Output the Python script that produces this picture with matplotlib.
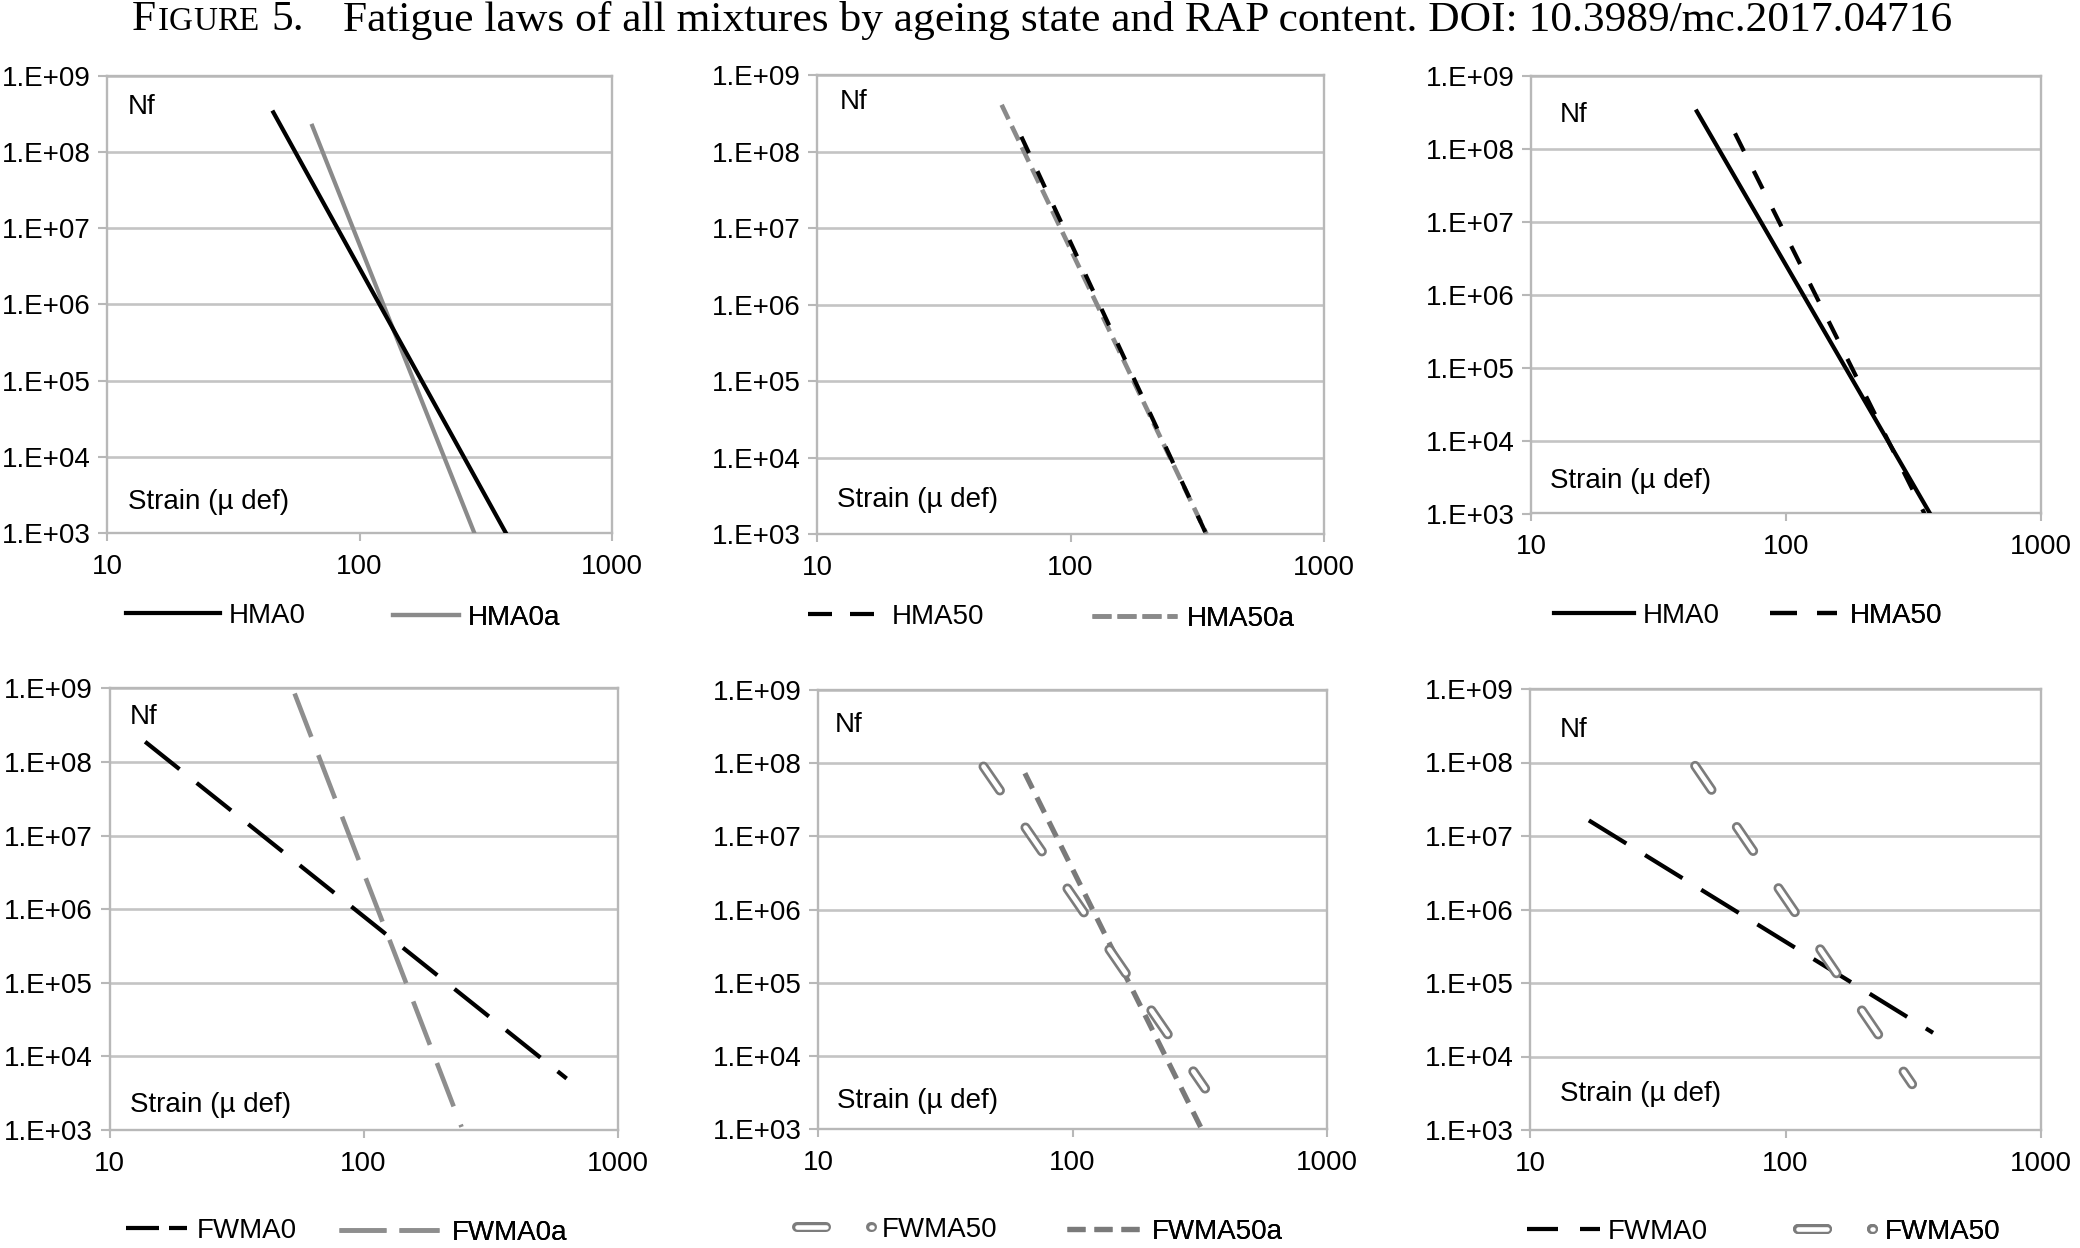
import matplotlib
matplotlib.use('Agg')
import matplotlib.pyplot as plt
from matplotlib.lines import Line2D
from matplotlib.ticker import NullLocator
from matplotlib.legend_handler import HandlerTuple

plt.rcParams['font.family'] = ['Liberation Sans', 'DejaVu Sans']
plt.rcParams['lines.scale_dashes'] = False

W, H, DPI = 2080, 1248, 100
PT = 72.0 / DPI          # points per pixel
FS = 20

# ---------------- data ----------------
strain_ticks = [10, 100, 1000]
strain_tick_labels = ['10', '100', '1000']
nf_ticks = [1e3, 1e4, 1e5, 1e6, 1e7, 1e8, 1e9]
nf_tick_labels = ['1.E+03', '1.E+04', '1.E+05', '1.E+06', '1.E+07', '1.E+08', '1.E+09']

# panel 1 : HMA0 vs HMA0a
p1_hma0_strain = [45.6, 380]
p1_hma0_nf = [3.3e8, 1e3]
p1_hma0a_strain = [65, 285]
p1_hma0a_nf = [2.2e8, 1e3]
# panel 2 : HMA50 vs HMA50a
p2_hma50_strain = [64, 343]
p2_hma50_nf = [1.57e8, 1e3]
p2_hma50a_strain = [53.5, 344]
p2_hma50a_nf = [4.1e8, 1e3]
# panel 3 : HMA0 vs HMA50
p3_hma0_strain = [44.7, 367]
p3_hma0_nf = [3.3e8, 1e3]
p3_hma50_strain = [63.1, 349]
p3_hma50_nf = [1.65e8, 1e3]
# panel 4 : FWMA0 vs FWMA0a
p4_fwma0_strain = [13.8, 630]
p4_fwma0_nf = [1.88e8, 5.0e3]
p4_fwma0a_strain = [53.5, 243]
p4_fwma0a_nf = [8.5e8, 1.1e3]
# panel 5 : FWMA50 vs FWMA50a
p5_fwma50_strain = [44.7, 332]
p5_fwma50_nf = [9.0e7, 3.6e3]
p5_fwma50a_strain = [65, 322]
p5_fwma50a_nf = [7.3e7, 1e3]
# panel 6 : FWMA0 vs FWMA50
p6_fwma0_strain = [17, 378]
p6_fwma0_nf = [1.63e7, 2.1e4]
p6_fwma50_strain = [44.3, 313]
p6_fwma50_nf = [9.0e7, 4.2e3]

title_tag = 'FIGURE 5.'
title_text = 'Fatigue laws of all mixtures by ageing state and RAP content. DOI: 10.3989/mc.2017.04716'

# ---------------- layout (pixels) ----------------
panels_px = [  # left, right, top, bottom
    (107, 612, 75.7, 533),
    (817, 1324, 75.2, 534),
    (1531, 2041, 76.3, 513.5),
    (109.6, 617.6, 688.3, 1130),
    (818, 1327, 690, 1129.3),
    (1530, 2041, 689, 1130),
]
nf_pos = [(128, 106.7), (840, 102), (1560, 115.5), (130, 716.7), (835, 725), (1560, 730)]
strain_pos = [(128, 502), (837, 500), (1550, 480.6), (130, 1105), (837, 1100.6), (1560, 1094)]

GRID = '#c4c4c4'
SPINE = '#b8b8b8'
BLACK = '#000000'
GRAY = '#8a8a8a'
HOLLOW = '#7c7c7c'

fig = plt.figure(figsize=(W / DPI, H / DPI), dpi=DPI)
fig.patch.set_facecolor('white')

axes = []
for (l, r, t, b) in panels_px:
    ax = fig.add_axes([l / W, 1 - b / H, (r - l) / W, (b - t) / H])
    ax.set_xscale('log')
    ax.set_yscale('log')
    ax.set_xlim(10, 1000)
    ax.set_ylim(1e3, 1e9)
    ax.set_xticks(strain_ticks)
    ax.set_xticklabels(strain_tick_labels)
    ax.set_yticks(nf_ticks)
    ax.set_yticklabels(nf_tick_labels)
    ax.xaxis.set_minor_locator(NullLocator())
    ax.yaxis.set_minor_locator(NullLocator())
    ax.yaxis.grid(True, color=GRID, lw=1.9)
    ax.xaxis.grid(False)
    ax.set_axisbelow(True)
    for s in ax.spines.values():
        s.set_color(SPINE)
        s.set_linewidth(1.7)
    ax.tick_params(axis='y', direction='out', length=6.5, width=1.5, color=SPINE,
                   pad=5.5, labelsize=FS)
    ax.tick_params(axis='x', direction='out', length=5.8, width=1.5, color=SPINE,
                   pad=9, labelsize=FS)
    axes.append(ax)


def px_dash(d, g):
    return (d * PT, g * PT)


def add_legend(ax, handle, label, x0, x1, xt, yc):
    fs_px = FS * DPI / 72.0
    leg = ax.legend(handles=[handle], labels=[label], loc='center left',
                    bbox_to_anchor=(x0 / W, 1 - yc / H), bbox_transform=fig.transFigure,
                    frameon=False, borderpad=0, borderaxespad=0,
                    handlelength=(x1 - x0) / fs_px, handletextpad=(xt - x1) / fs_px,
                    fontsize=FS, handler_map={tuple: HandlerTuple(ndivide=1)})
    ax.add_artist(leg)


OUT_W, IN_W = 10 * PT, 4.6 * PT


def hollow(ax, x, y, dash, gap, color, zorder=3):
    ax.plot(x, y, color=color, lw=OUT_W, dashes=px_dash(dash, gap),
            dash_capstyle='round', solid_capstyle='round', zorder=zorder)
    ax.plot(x, y, color='white', lw=IN_W, dashes=px_dash(dash, gap),
            dash_capstyle='round', solid_capstyle='round', zorder=zorder + 0.1)


def hollow_handle(color, dash, gap):
    lo = Line2D([], [], color=color, lw=OUT_W, dashes=px_dash(dash, gap),
                dash_capstyle='round')
    li = Line2D([], [], color='white', lw=IN_W, dashes=px_dash(dash, gap),
                dash_capstyle='round')
    return (lo, li)


LW = 4.2 * PT

# panel 1
ax = axes[0]
ax.plot(p1_hma0_strain, p1_hma0_nf, color=BLACK, lw=LW, zorder=4)
ax.plot(p1_hma0a_strain, p1_hma0a_nf, color=GRAY, lw=LW, zorder=3)
add_legend(ax, Line2D([], [], color=BLACK, lw=LW), 'HMA0', 126, 220, 229, 616)
add_legend(ax, Line2D([], [], color=GRAY, lw=LW), 'HMA0a', 393, 459, 468, 618)

# panel 2
ax = axes[1]
ax.plot(p2_hma50a_strain, p2_hma50a_nf, color=GRAY, lw=4.6 * PT,
        dashes=px_dash(16, 7.5), zorder=3)
ax.plot(p2_hma50_strain, p2_hma50_nf, color=BLACK, lw=LW,
        dashes=px_dash(18, 20), zorder=4)
add_legend(ax, Line2D([], [], color=BLACK, lw=LW, dashes=px_dash(24, 18)),
           'HMA50', 808, 875, 892, 617)
add_legend(ax, Line2D([], [], color=GRAY, lw=4.6 * PT, dashes=px_dash(19, 6)),
           'HMA50a', 1092, 1177, 1187, 619)

# panel 3
ax = axes[2]
ax.plot(p3_hma0_strain, p3_hma0_nf, color=BLACK, lw=LW, zorder=3)
ax.plot(p3_hma50_strain, p3_hma50_nf, color=BLACK, lw=LW,
        dashes=px_dash(20, 22), zorder=4)
add_legend(ax, Line2D([], [], color=BLACK, lw=LW), 'HMA0', 1554, 1634, 1643, 616)
add_legend(ax, Line2D([], [], color=BLACK, lw=LW, dashes=px_dash(27, 20)),
           'HMA50', 1770, 1837, 1850, 616)

# panel 4
ax = axes[3]
ax.plot(p4_fwma0_strain, p4_fwma0_nf, color=BLACK, lw=LW,
        dashes=px_dash(44, 22), zorder=4)
ax.plot(p4_fwma0a_strain, p4_fwma0a_nf, color='#8e8e8e', lw=4.6 * PT,
        dashes=px_dash(46.5, 19.5), zorder=3)
add_legend(ax, Line2D([], [], color=BLACK, lw=LW, dashes=px_dash(33, 10)),
           'FWMA0', 126, 187, 197, 1231)
add_legend(ax, Line2D([], [], color='#8e8e8e', lw=4.6 * PT, dashes=px_dash(47, 13)),
           'FWMA0a', 339, 439, 452, 1233)

# panel 5
ax = axes[4]
ax.plot(p5_fwma50a_strain, p5_fwma50a_nf, color='#7a7a7a', lw=5.2 * PT,
        dashes=px_dash(17, 10), zorder=3)
hollow(ax, p5_fwma50_strain, p5_fwma50_nf, 29, 45, HOLLOW, zorder=4)
add_legend(ax, hollow_handle(HOLLOW, 29, 45), 'FWMA50', 797, 872, 882, 1230)
add_legend(ax, Line2D([], [], color='#7a7a7a', lw=5.2 * PT, dashes=px_dash(18, 9)),
           'FWMA50a', 1067, 1142, 1152, 1232)

# panel 6
ax = axes[5]
ax.plot(p6_fwma0_strain, p6_fwma0_nf, color=BLACK, lw=LW,
        dashes=px_dash(44, 22), zorder=3)
hollow(ax, p6_fwma50_strain, p6_fwma50_nf, 29, 45, HOLLOW, zorder=4)
add_legend(ax, Line2D([], [], color=BLACK, lw=LW, dashes=px_dash(31, 22)),
           'FWMA0', 1527, 1600, 1608, 1232)
add_legend(ax, hollow_handle(HOLLOW, 29, 45), 'FWMA50', 1798, 1873, 1885, 1232)

# in-plot labels
for (x, y) in nf_pos:
    fig.text(x / W, 1 - y / H, 'Nf', fontsize=FS, ha='left', va='center')
for (x, y) in strain_pos:
    fig.text(x / W, 1 - y / H, 'Strain (\u00b5 def)', fontsize=FS, ha='left', va='center')

# ---------------- title with small caps ----------------
SERIF = ['Liberation Serif', 'DejaVu Serif']
fig.canvas.draw()
renderer = fig.canvas.get_renderer()
base_y = 1 - 30.5 / H

# main text: fit between 343 px and 1950 px
t_main = fig.text(343 / W, base_y, title_text, fontsize=25, family=SERIF,
                  ha='left', va='baseline')
for _ in range(3):
    bb = t_main.get_window_extent(renderer)
    t_main.set_fontsize(t_main.get_fontsize() * (1950 - 343) / bb.width)
size = t_main.get_fontsize()

# "F" then small-caps "IGURE" then "5."
tag_big = title_tag[0]
tag_small = title_tag[1:title_tag.index(' ')]
tag_num = title_tag[title_tag.index(' ') + 1:]
fig.text(132 / W, base_y, tag_big, fontsize=size, family=SERIF, ha='left', va='baseline')
letters = [fig.text(0, base_y, ch, fontsize=size * 0.76, family=SERIF,
                    ha='left', va='baseline') for ch in tag_small]
widths = [t.get_window_extent(renderer).width for t in letters]
x0, x1 = 158.0, 256.0
extra = (x1 - x0 - sum(widths)) / max(len(letters) - 1, 1)
extra = max(extra, 0.0)
x = x0
for t, w in zip(letters, widths):
    t.set_x(x / W)
    x += w + extra
fig.text(271 / W, base_y, tag_num, fontsize=size, family=SERIF, ha='left', va='baseline')

fig.savefig('out.png', dpi=DPI, facecolor='white')
